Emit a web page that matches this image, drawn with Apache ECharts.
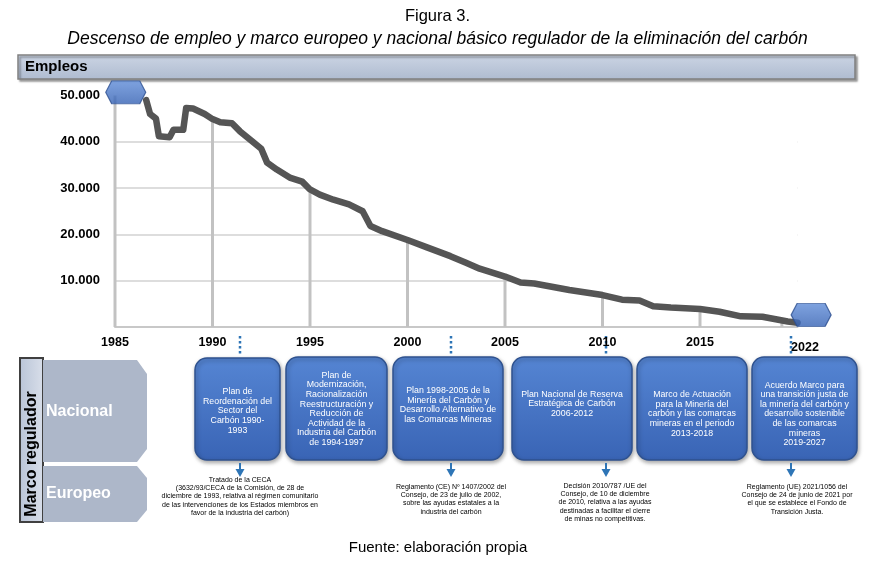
<!DOCTYPE html>
<html>
<head>
<meta charset="utf-8">
<script src="https://cdn.jsdelivr.net/npm/echarts@6/dist/echarts.min.js"></script>
<style>
  body { margin: 0; background: #fff; }
  #main { width: 875px; height: 561px; }
</style>
</head>
<body>
<div id="main"></div>
<script>
    // empleo en la minería del carbón
    var years = [1986.6, 1986.8, 1987.1, 1987.25, 1987.8, 1988.0, 1988.5, 1988.65, 1989.0, 1989.6,
        1990.0, 1990.4, 1991.0, 1991.4, 1992.0, 1992.5, 1992.8, 1993.3, 1994.0, 1994.6,
        1995.0, 1995.5, 1996.2, 1997.0, 1997.7, 1998.1, 1998.7, 2000.0, 2001.0, 2002.2,
        2003.0, 2003.7, 2005.0, 2005.8, 2006.5, 2008.3, 2010.0, 2011.0, 2011.9, 2012.6,
        2013.5, 2015.0, 2016.0, 2017.1, 2018.2, 2019.5, 2020.0];
    var empleos = [49000, 46000, 45000, 41200, 41000, 42600, 42600, 47300, 47200, 46000,
        44900, 44200, 44000, 42300, 40200, 38500, 35500, 34000, 32200, 31400,
        29700, 28600, 27500, 26500, 25000, 21800, 20700, 18800, 17200, 15300,
        13900, 12600, 10900, 9600, 9400, 8000, 6900, 5900, 5700, 4500,
        4200, 3900, 3300, 2300, 2200, 1200, 900];

    // líneas verticales desde la curva hasta el eje
    var dropYears = [1985, 1990, 1995, 2000, 2005, 2010, 2015, 2019.2];
    var dropValues = [50000, 44800, 29700, 18800, 10900, 6900, 3900, 1300];

    // hexágonos de inicio y fin
    var markerYears = [1985.55, 2020.7];
    var markerValues = [50700, 2600];

    var nacional = [
        'Plan de\nReordenación del\nSector del\nCarbón 1990-\n1993',
        'Plan de\nModernización,\nRacionalización\nReestructuración y\nReducción de\nActividad de la\nIndustria del Carbón\nde 1994-1997',
        'Plan 1998-2005 de la\nMinería del Carbón y\nDesarrollo Alternativo de\nlas Comarcas Mineras',
        'Plan Nacional de Reserva\nEstratégica de Carbón\n2006-2012',
        'Marco de Actuación\npara la Minería del\ncarbón y las comarcas\nmineras en el periodo\n2013-2018',
        'Acuerdo Marco para\nuna transición justa de\nla minería del carbón y\ndesarrollo sostenible\nde las comarcas\nmineras\n2019-2027'
    ];
    var europeo = [
        'Tratado de la CECA\n(3632/93/CECA de la Comisión, de 28 de\ndiciembre de 1993, relativa al régimen comunitario\nde las intervenciones de los Estados miembros en\nfavor de la industria del carbón)',
        'Reglamento (CE) Nº 1407/2002 del\nConsejo, de 23 de julio de 2002,\nsobre las ayudas estatales a la\nindustria del carbón',
        'Decisión 2010/787 /UE del\nConsejo, de 10 de diciembre\nde 2010, relativa a las ayudas\ndestinadas a facilitar el cierre\nde minas no competitivas.',
        'Reglamento (UE) 2021/1056 del\nConsejo de 24 de junio de 2021 por\nel que se establece el Fondo de\nTransición Justa.'
    ];

    var FONT = '"Liberation Sans", Arial, sans-serif';

    // cajas azules: [x, y, ancho, alto, centro del texto]
    var boxes = [
        [195, 358, 85, 102, 411],
        [286, 357, 101, 103, 409],
        [393, 357, 110, 103, 405],
        [512, 357, 120, 103, 404],
        [637, 357, 110, 103, 414],
        [752, 357, 105, 103, 414]
    ];
    // textos europeos: [centro x, y superior]
    var euroPos = [[240, 476], [451, 483], [605, 482], [797, 483]];
    var connectors = [240, 451, 606, 791];

    var lineData = years.map(function (y, i) { return [y, empleos[i]]; });
    var dropData = dropYears.map(function (y, i) { return [y, dropValues[i]]; });
    var markerData = markerYears.map(function (y, i) { return [y, markerValues[i]]; });

    var blue = '#2E75B6';
    var graphics = [];

    function txt(x, y, text, font, fill, align, valign, extra) {
        var el = {
            type: 'text', x: x, y: y,
            style: { text: text, font: font, fill: fill,
                align: align, verticalAlign: valign, textAlign: align, textVerticalAlign: valign }
        };
        if (extra) {
            for (var k in extra) el.style[k] = extra[k];
        }
        return el;
    }

    // barra "Empleos"
    graphics.push({
        type: 'rect', shape: { x: 18, y: 55, width: 837, height: 24 },
        style: {
            fill: new echarts.graphic.LinearGradient(0, 0, 0, 1, [
                { offset: 0, color: '#CCD5E4' }, { offset: 1, color: '#AEBBD0' }]),
            stroke: '#808080', lineWidth: 1.5,
            shadowColor: 'rgba(0,0,0,0.35)', shadowBlur: 2, shadowOffsetX: 2, shadowOffsetY: 2
        }
    });
    graphics.push(txt(25, 67, 'Empleos', 'bold 15px ' + FONT, '#000', 'left', 'middle'));
    graphics.push(txt(805, 348, '2022', 'bold 12.5px ' + FONT, '#000', 'center', 'middle'));

    // Marco regulador
    graphics.push({
        type: 'rect', shape: { x: 20, y: 358, width: 23, height: 164 },
        style: {
            fill: new echarts.graphic.LinearGradient(0, 0, 1, 0, [
                { offset: 0, color: '#B9C4D7' }, { offset: 1, color: '#D9DFEA' }]),
            stroke: '#404040', lineWidth: 2
        }
    });
    var vert = txt(0, 0, 'Marco regulador', 'bold 16px ' + FONT, '#000', 'center', 'middle');
    vert.x = 32; vert.y = 454; vert.rotation = Math.PI / 2;
    graphics.push(vert);
    graphics.push({
        type: 'polygon',
        shape: { points: [[43, 360], [137, 360], [147, 374], [147, 449], [137, 462], [43, 462]] },
        style: { fill: '#ADB7C9' }
    });
    graphics.push({
        type: 'polygon',
        shape: { points: [[43, 466], [137, 466], [147, 478], [147, 510], [137, 522], [43, 522]] },
        style: { fill: '#ADB7C9' }
    });
    graphics.push(txt(46, 412, 'Nacional', 'bold 16px ' + FONT, '#fff', 'left', 'middle'));
    graphics.push(txt(46, 494, 'Europeo', 'bold 16px ' + FONT, '#fff', 'left', 'middle'));

    // cajas del marco nacional
    boxes.forEach(function (b, i) {
        graphics.push({
            type: 'rect', shape: { x: b[0], y: b[1], width: b[2], height: b[3], r: 12 },
            style: {
                fill: new echarts.graphic.LinearGradient(0, 0, 0, 1, [
                    { offset: 0, color: '#5585D3' }, { offset: 1, color: '#3964B5' }]),
                stroke: '#2F528F', lineWidth: 1.5,
                shadowColor: 'rgba(0,0,0,0.35)', shadowBlur: 4, shadowOffsetX: 1, shadowOffsetY: 2
            }
        });
        graphics.push(txt(b[0] + b[2] / 2, b[4], nacional[i], '8.8px ' + FONT, '#fff', 'center', 'middle',
            { lineHeight: 9.6 }));
    });

    // conectores punteados y flechas
    connectors.forEach(function (x) {
        graphics.push({
            type: 'line', shape: { x1: x, y1: 336, x2: x, y2: 356 },
            style: { stroke: blue, lineWidth: 2.5, lineDash: [2.5, 2.5] }
        });
        graphics.push({
            type: 'line', shape: { x1: x, y1: 463, x2: x, y2: 470 },
            style: { stroke: blue, lineWidth: 2 }
        });
        graphics.push({
            type: 'polygon', shape: { points: [[x - 4.5, 469], [x + 4.5, 469], [x, 477]] },
            style: { fill: blue }
        });
    });

    // textos del marco europeo
    europeo.forEach(function (t, i) {
        graphics.push(txt(euroPos[i][0], euroPos[i][1], t, '7px ' + FONT, '#000', 'center', 'top',
            { lineHeight: 8.2 }));
    });

    graphics.push(txt(438, 548, 'Fuente: elaboración propia', '15px ' + FONT, '#000', 'center', 'middle'));

    var myChart = echarts.init(document.getElementById('main'));

    var option = {
        animation: false,
        title: {
            text: 'Figura 3.',
            subtext: 'Descenso de empleo y marco europeo y nacional básico regulador de la eliminación del carbón',
            left: 'center',
            top: 3,
            itemGap: 5,
            textStyle: { fontFamily: FONT, fontSize: 16.5, fontWeight: 'normal', color: '#000' },
            subtextStyle: { fontFamily: FONT, fontSize: 17.5, fontStyle: 'italic', color: '#000' }
        },
        grid: { left: 115, right: 77.5, top: 95.5, bottom: 234 },
        xAxis: {
            type: 'value',
            min: 1985,
            max: 2020,
            interval: 5,
            splitLine: { show: false },
            axisTick: { show: false },
            axisLine: { lineStyle: { color: '#C8C8C8', width: 2 } },
            axisLabel: {
                margin: 9,
                fontFamily: FONT, fontSize: 12.5, fontWeight: 'bold', color: '#000',
                formatter: function (v) { return v === 2020 ? '' : String(v); }
            }
        },
        yAxis: {
            type: 'value',
            min: 0,
            max: 50000,
            interval: 10000,
            axisLine: { show: false },
            axisTick: { show: false },
            splitLine: { showMaxLine: false, lineStyle: { color: '#D2D2D2', width: 1.5 } },
            axisLabel: {
                margin: 15,
                padding: [0, 0, 8, 0],
                fontFamily: FONT, fontSize: 13, fontWeight: 'bold', color: '#000',
                formatter: function (v) { return v === 0 ? '' : (v / 1000) + '.000'; }
            }
        },
        graphic: graphics,
        series: [
            {
                type: 'bar',
                data: dropData,
                barWidth: 3,
                clip: false,
                itemStyle: { color: '#C2C2C2' },
                silent: true
            },
            {
                type: 'line',
                data: lineData,
                symbol: 'none',
                lineStyle: { color: '#555555', width: 6.5, join: 'round', cap: 'round' },
                areaStyle: { color: '#ffffff', opacity: 1, origin: 'end' },
                silent: true
            },
            {
                type: 'scatter',
                data: markerData,
                clip: false,
                symbol: 'path://M0,10 L6,0 L34,0 L40,10 L34,20 L6,20 Z',
                symbolSize: [40, 23],
                itemStyle: {
                    color: new echarts.graphic.LinearGradient(0, 0, 0, 1, [
                        { offset: 0, color: '#5F8CD8' }, { offset: 1, color: '#3360B3' }]),
                    borderColor: '#2A4E8E',
                    borderWidth: 1
                },
                silent: true,
                z: 5
            }
        ]
    };
    myChart.setOption(option);
</script>
</body>
</html>
